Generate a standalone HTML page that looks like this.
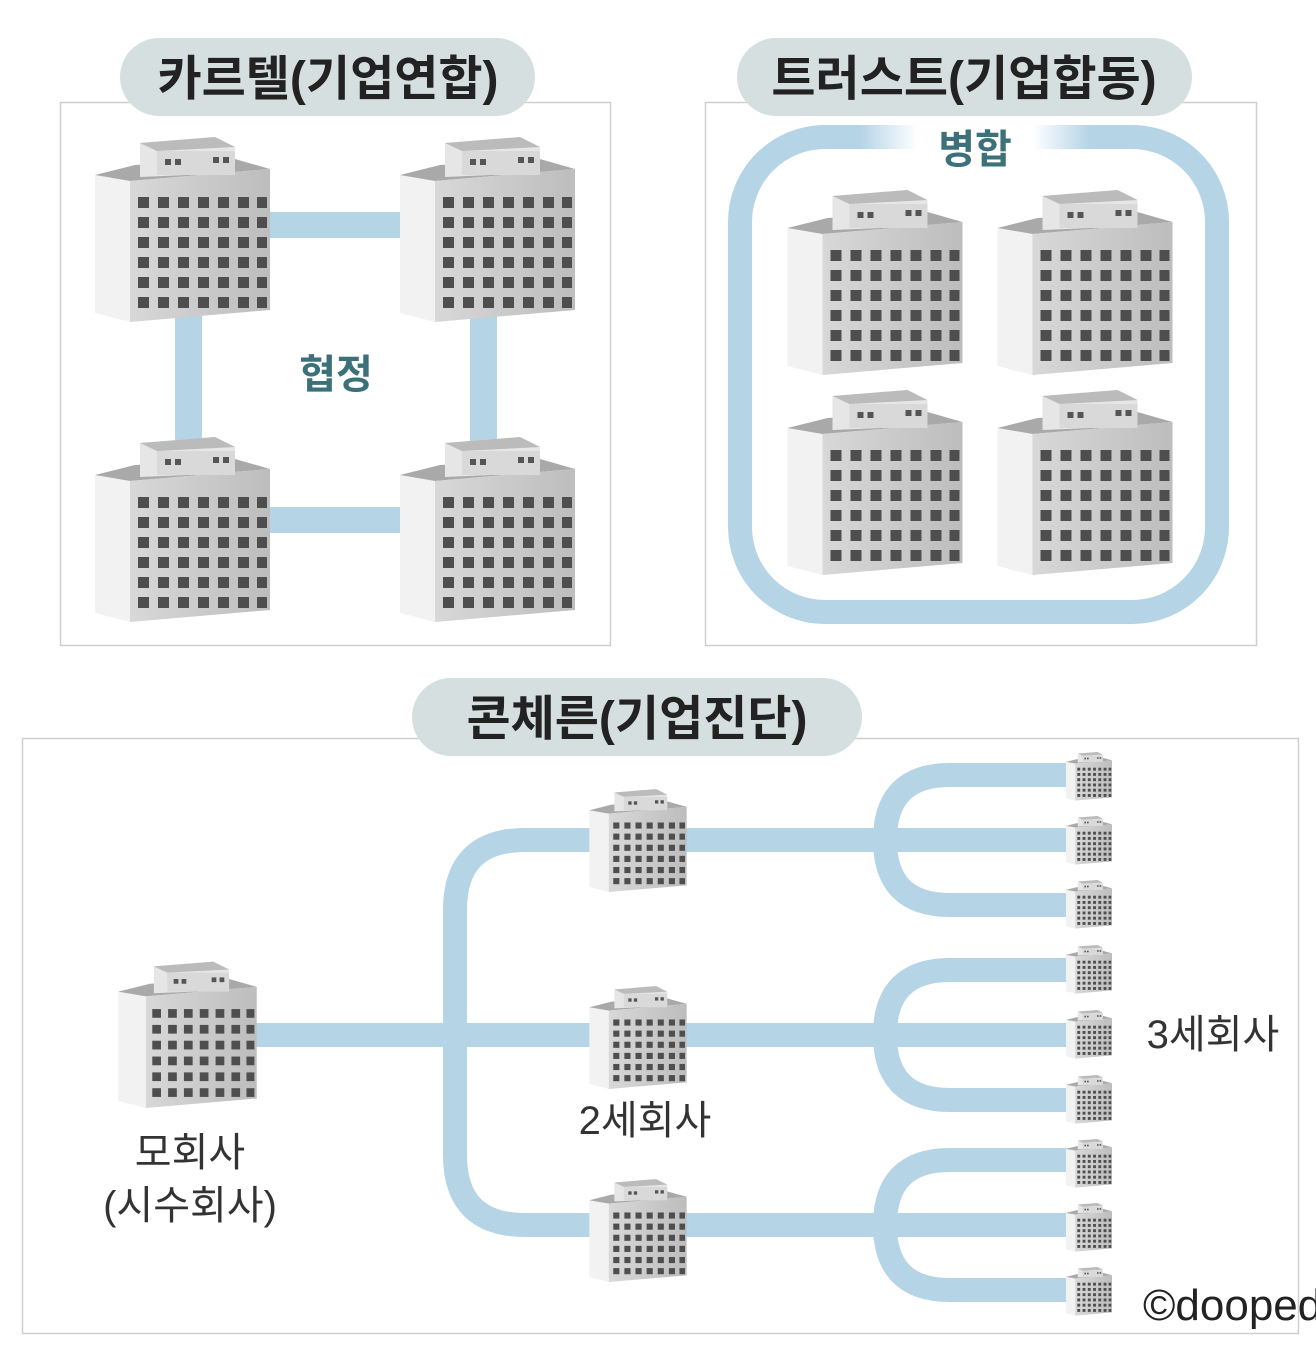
<!DOCTYPE html>
<html><head><meta charset="utf-8"><style>
html,body{margin:0;padding:0;background:#fff;width:1316px;height:1364px;overflow:hidden}
svg{display:block}
text{font-family:"Liberation Sans","Noto Sans CJK KR",sans-serif}
</style></head><body>
<svg width="1316" height="1364" viewBox="0 0 1316 1364" xmlns="http://www.w3.org/2000/svg">
<defs>
<linearGradient id="fr" x1="0" y1="0" x2="1" y2="0">
<stop offset="0" stop-color="#d8d8d8"/><stop offset="1" stop-color="#bdbdbd"/></linearGradient>
<linearGradient id="fade" x1="0" y1="0" x2="1" y2="0">
<stop offset="0" stop-color="#fff" stop-opacity="0"/><stop offset="0.25" stop-color="#fff"/><stop offset="0.75" stop-color="#fff"/><stop offset="1" stop-color="#fff" stop-opacity="0"/></linearGradient>
<g id="row" fill="#4e4e4e"><rect x="43" y="0" width="11" height="11"/><rect x="63" y="0" width="11" height="11"/><rect x="83" y="0" width="11" height="11"/><rect x="103" y="0" width="11" height="11"/><rect x="123" y="0" width="11" height="11"/><rect x="143" y="0" width="11" height="11"/><rect x="162" y="0" width="10" height="11"/></g>
<symbol id="b" viewBox="0 0 175 187">
<polygon points="0,40 35,46 35,187 0,178" fill="#f2f2f2"/>
<polygon points="0,40 40,30 140,24 175,34 35,46" fill="#a9a9a9"/>
<polygon points="35,46 175,34 175,175 35,187" fill="url(#fr)"/>
<polygon points="45,8 120,2 140,12 140,38 45,42" fill="#e6e6e6"/>
<polygon points="45,8 120,2 140,12 62,16" fill="#bbb"/>
<rect x="62" y="16" width="78" height="24" fill="#d9d9d9"/>
<rect x="70" y="24" width="6" height="6" fill="#555"/><rect x="80" y="24" width="6" height="6" fill="#555"/>
<rect x="118" y="22" width="6" height="6" fill="#555"/><rect x="128" y="22" width="6" height="6" fill="#555"/>
<use href="#row" y="62"/><use href="#row" y="82"/><use href="#row" y="102"/><use href="#row" y="122"/><use href="#row" y="142"/><use href="#row" y="162"/>
</symbol>
</defs>

<!-- Cartel -->
<rect x="60.5" y="102.5" width="550" height="543" fill="none" stroke="#cfcfcf" stroke-width="1.5"/>
<rect x="120" y="38" width="415" height="78" rx="39" fill="#d5dfe0"/>
<text x="328" y="95" font-size="48" font-weight="bold" fill="#222" text-anchor="middle">카르텔(기업연합)</text>
<g fill="#b5d4e6">
<rect x="260" y="212" width="150" height="26"/><rect x="260" y="507" width="150" height="26"/>
<rect x="175" y="310" width="27" height="140"/><rect x="470" y="310" width="27" height="140"/>
</g>
<use href="#b" x="95" y="135" width="175" height="187"/>
<use href="#b" x="400" y="135" width="175" height="187"/>
<use href="#b" x="95" y="435" width="175" height="187"/>
<use href="#b" x="400" y="435" width="175" height="187"/>
<text x="336" y="388" font-size="40" font-weight="bold" fill="#3d7179" text-anchor="middle">협정</text>

<!-- Trust -->
<rect x="705.5" y="102.5" width="551" height="543" fill="none" stroke="#cfcfcf" stroke-width="1.5"/>
<rect x="737" y="38" width="455" height="78" rx="39" fill="#d5dfe0"/>
<text x="964" y="95" font-size="48" font-weight="bold" fill="#222" text-anchor="middle">트러스트(기업합동)</text>
<rect x="740" y="137" width="477" height="475" rx="85" fill="none" stroke="#b5d4e6" stroke-width="24"/>
<rect x="860" y="118" width="230" height="40" fill="url(#fade)"/>
<text x="975" y="163" font-size="40" font-weight="bold" fill="#3d7179" text-anchor="middle">병합</text>
<use href="#b" x="785" y="188" width="180" height="187"/>
<use href="#b" x="995" y="188" width="180" height="187"/>
<use href="#b" x="785" y="388" width="180" height="187"/>
<use href="#b" x="995" y="388" width="180" height="187"/>

<!-- Concern -->
<rect x="22.5" y="738.5" width="1276" height="595" fill="none" stroke="#cfcfcf" stroke-width="1.5"/>
<rect x="412" y="678" width="450" height="78" rx="39" fill="#d5dfe0"/>
<text x="637" y="735" font-size="48" font-weight="bold" fill="#222" text-anchor="middle">콘체른(기업진단)</text>
<g fill="none" stroke="#b5d4e6" stroke-width="24">
<path d="M250 1035 H600"/>
<path d="M600 840 H525 Q455 840 455 910 V1155 Q455 1225 525 1225 H600"/>
<path d="M680 840 H1075"/><path d="M680 1035 H1075"/><path d="M680 1225 H1075"/>
<path d="M1075 775 H950 Q885 775 885 840 Q885 905 950 905 H1075"/>
<path d="M1075 970 H950 Q885 970 885 1035 Q885 1100 950 1100 H1075"/>
<path d="M1075 1160 H950 Q885 1160 885 1225 Q885 1290 950 1290 H1075"/>
</g>
<use href="#b" x="115" y="960" width="145" height="148"/>
<use href="#b" x="588" y="788" width="100" height="104"/>
<use href="#b" x="588" y="985" width="100" height="104"/>
<use href="#b" x="588" y="1178" width="100" height="104"/>
<g>
<use href="#b" x="1066" y="750" width="46" height="52"/>
<use href="#b" x="1066" y="814" width="46" height="52"/>
<use href="#b" x="1066" y="878" width="46" height="52"/>
<use href="#b" x="1066" y="943" width="46" height="52"/>
<use href="#b" x="1066" y="1008" width="46" height="52"/>
<use href="#b" x="1066" y="1073" width="46" height="52"/>
<use href="#b" x="1066" y="1137" width="46" height="52"/>
<use href="#b" x="1066" y="1201" width="46" height="52"/>
<use href="#b" x="1066" y="1265" width="46" height="52"/>
</g>
<g font-size="40" fill="#333" text-anchor="middle">
<text x="645" y="1134">2세회사</text>
<text x="1213" y="1048">3세회사</text>
<text x="190" y="1166">모회사</text>
<text x="190" y="1219">(시수회사)</text>
</g>
<text x="1143" y="1320" font-size="44" fill="#222" font-family="Liberation Serif,serif">©doopedia</text>
</svg>
</body></html>
